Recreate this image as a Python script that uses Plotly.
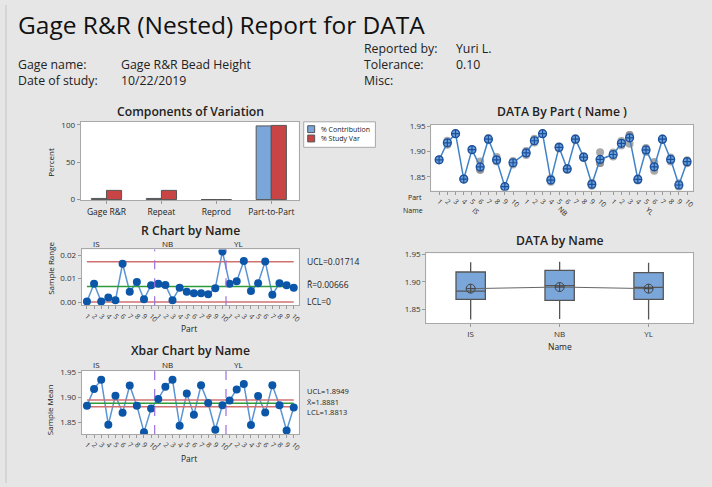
import plotly.graph_objects as go
import numpy as np

W, H = 712, 487
FONT = "Open Sans"

# ---------------- data ----------------
components = ["Gage R&R", "Repeat", "Reprod", "Part-to-Part"]
pct_contribution = [1.5, 1.5, 0.0, 98.5]
pct_study_var = [12.3, 12.3, 0.0, 99.2]

names = ["IS", "NB", "YL"]
parts = ["1", "2", "3", "4", "5", "6", "7", "8", "9", "10"]

# three trials per part, ordered IS parts 1-10, NB parts 1-10, YL parts 1-10
trial1 = [1.8834, 1.9131, 1.9349, 1.8446, 1.9031, 1.8640, 1.9218, 1.8806, 1.8300, 1.8741,
          1.8931, 1.9174, 1.9346, 1.8405, 1.9058, 1.8637, 1.9222, 1.8871, 1.8323, 1.8770,
          1.8900, 1.9114, 1.9150, 1.8425, 1.8989, 1.8620, 1.9225, 1.8802, 1.8303, 1.8767]
trial2 = [1.8835, 1.9170, 1.9350, 1.8455, 1.9035, 1.8640, 1.9240, 1.8808, 1.8306, 1.8777,
          1.8970, 1.9210, 1.9350, 1.8435, 1.9080, 1.8655, 1.9240, 1.8887, 1.8352, 1.8771,
          1.8939, 1.9158, 1.9325, 1.8448, 1.9029, 1.8676, 1.9240, 1.8842, 1.8339, 1.8797]
trial3 = [1.8836, 1.9209, 1.9351, 1.8465, 1.9039, 1.8803, 1.9262, 1.8891, 1.8312, 1.8813,
          1.9009, 1.9247, 1.9354, 1.8466, 1.9102, 1.8674, 1.9259, 1.8904, 1.8382, 1.8985,
          1.8978, 1.9203, 1.9325, 1.8472, 1.9069, 1.8793, 1.9256, 1.8882, 1.8375, 1.8828]

r_ucl, r_bar, r_lcl = 0.01714, 0.00666, 0.0
x_ucl, x_bar, x_lcl = 1.8949, 1.8881, 1.8813

box_q1 = [1.868, 1.866, 1.868]
box_median = [1.883, 1.893, 1.890]
box_q3 = [1.918, 1.921, 1.917]
box_low = [1.831, 1.832, 1.831]
box_high = [1.936, 1.937, 1.935]
box_mean = [1.8875, 1.8905, 1.8875]

# ---------------- derived ----------------
meas = np.array([trial1, trial2, trial3])
xbar_vals = meas.mean(axis=0)
r_vals = meas.max(axis=0) - meas.min(axis=0)
idx = list(range(30))
part_text = parts * 3
bypart_x = [g * 10.6 + p for g in range(3) for p in range(10)]

BLUE_BAR = "#7aa6da"
RED_BAR = "#c94444"
PT_BLUE = "#0b56a8"
LN_BLUE = "#5b94d4"
LIM_RED = "#d07070"
CEN_GRN = "#2f9a3a"
PURPLE = "#9b6ee0"


def dx(a, b):
    return [a / W, b / W]


def dy(top, bottom):
    return [1 - bottom / H, 1 - top / H]


def axstyle(**kw):
    d = dict(showline=True, mirror=True, linecolor="#a8a8a8", linewidth=1,
             showgrid=False, zeroline=False, ticks="outside", ticklen=3,
             tickcolor="#999", tickfont=dict(size=8, color="#333", family=FONT))
    d.update(kw)
    return d


fig = go.Figure()

# 1. Components of variation
fig.add_trace(go.Bar(x=components, y=pct_contribution, name="% Contribution",
                     marker=dict(color=BLUE_BAR, line=dict(color="#555", width=1)),
                     xaxis="x", yaxis="y", showlegend=False))
fig.add_trace(go.Bar(x=components, y=pct_study_var, name="% Study Var",
                     marker=dict(color=RED_BAR, line=dict(color="#555", width=1)),
                     xaxis="x", yaxis="y", showlegend=False))

# 2. DATA By Part (Name)
for t in (trial1, trial2, trial3):
    fig.add_trace(go.Scatter(x=bypart_x, y=t, mode="markers", xaxis="x2", yaxis="y2",
                             marker=dict(color="rgba(140,140,140,0.75)", size=8),
                             showlegend=False, hoverinfo="skip"))
fig.add_trace(go.Scatter(x=bypart_x, y=xbar_vals, mode="lines+markers",
                         xaxis="x2", yaxis="y2",
                         line=dict(color="#3f82c8", width=1.5),
                         marker=dict(symbol="circle-cross", size=8, color="#6a9fd8",
                                     line=dict(color="#1a4f9c", width=1.2)),
                         showlegend=False))

# 3. R chart
fig.add_trace(go.Scatter(x=idx, y=r_vals, mode="lines", xaxis="x3", yaxis="y3",
                         line=dict(color=LN_BLUE, width=1.5), showlegend=False))
for val, col in ((r_ucl, LIM_RED), (r_lcl, LIM_RED), (r_bar, CEN_GRN)):
    fig.add_trace(go.Scatter(x=[idx[0], idx[-1]], y=[val, val], mode="lines",
                             xaxis="x3", yaxis="y3", line=dict(color=col, width=1.5),
                             showlegend=False))
fig.add_trace(go.Scatter(x=idx, y=r_vals, mode="markers", xaxis="x3", yaxis="y3",
                         marker=dict(color=PT_BLUE, size=8), showlegend=False))

# 4. Xbar chart
fig.add_trace(go.Scatter(x=idx, y=xbar_vals, mode="lines", xaxis="x4", yaxis="y4",
                         line=dict(color=LN_BLUE, width=1.5), showlegend=False))
for val, col in ((x_ucl, LIM_RED), (x_lcl, LIM_RED), (x_bar, CEN_GRN)):
    fig.add_trace(go.Scatter(x=[idx[0], idx[-1]], y=[val, val], mode="lines",
                             xaxis="x4", yaxis="y4", line=dict(color=col, width=1.5),
                             showlegend=False))
fig.add_trace(go.Scatter(x=idx, y=xbar_vals, mode="markers", xaxis="x4", yaxis="y4",
                         marker=dict(color=PT_BLUE, size=8), showlegend=False))

# 5. DATA by Name
fig.add_trace(go.Box(x=names, q1=box_q1, median=box_median, q3=box_q3,
                     lowerfence=box_low, upperfence=box_high, xaxis="x5", yaxis="y5",
                     fillcolor=BLUE_BAR, line=dict(color="#555", width=1.3),
                     whiskerwidth=0, width=0.33, showlegend=False, hoverinfo="skip"))
fig.add_trace(go.Scatter(x=names, y=box_mean, mode="lines+markers", xaxis="x5", yaxis="y5",
                         line=dict(color="#666", width=1),
                         marker=dict(symbol="circle-cross-open", size=9,
                                     color="#444", line=dict(width=1)),
                         showlegend=False))

# ---------------- layout ----------------
fig.update_layout(
    width=W, height=H, margin=dict(l=0, r=0, t=0, b=0),
    paper_bgcolor="#e6e6e6", plot_bgcolor="white",
    font=dict(family=FONT, color="#222"),
    barmode="group", bargap=0.45, bargroupgap=0,
    xaxis=axstyle(domain=dx(81, 300), anchor="y", range=[-0.47, 3.5],
                  tickfont=dict(size=8.5, color="#222", family=FONT)),
    yaxis=axstyle(domain=dy(119, 199), anchor="x", range=[-1, 104],
                  tickvals=[0, 50, 100]),
    xaxis2=axstyle(domain=dx(433, 696), anchor="y2", range=[-0.97, 30.93],
                   tickvals=bypart_x, ticktext=part_text, tickangle=45,
                   tickfont=dict(size=7, color="#333", family=FONT)),
    yaxis2=axstyle(domain=dy(122, 189), anchor="x2", range=[1.823, 1.9525],
                   tickvals=[1.85, 1.90, 1.95], ticktext=["1.85", "1.90", "1.95"]),
    xaxis3=axstyle(domain=dx(82, 300), anchor="y3", range=[-0.74, 29.7],
                   tickvals=idx, ticktext=part_text, tickangle=45,
                   tickfont=dict(size=7, color="#333", family=FONT)),
    yaxis3=axstyle(domain=dy(249, 306), anchor="x3", range=[-0.0014, 0.0224],
                   tickvals=[0, 0.01, 0.02], ticktext=["0.00", "0.01", "0.02"]),
    xaxis4=axstyle(domain=dx(82, 300), anchor="y4", range=[-0.74, 29.7],
                   tickvals=idx, ticktext=part_text, tickangle=45,
                   tickfont=dict(size=7, color="#333", family=FONT)),
    yaxis4=axstyle(domain=dy(373, 437), anchor="x4", range=[1.827, 1.9525],
                   tickvals=[1.85, 1.90, 1.95], ticktext=["1.85", "1.90", "1.95"]),
    xaxis5=axstyle(domain=dx(428, 696), anchor="y5", range=[-0.5, 2.5],
                   type="category"),
    yaxis5=axstyle(domain=dy(253, 324), anchor="x5", range=[1.8245, 1.9523],
                   tickvals=[1.85, 1.90, 1.95], ticktext=["1.85", "1.90", "1.95"]),
)

shapes = []
for xr in ("x3", "x4"):
    for xv in (9.5, 19.5):
        shapes.append(dict(type="line", xref=xr, yref=xr.replace("x", "y") + " domain",
                           x0=xv, x1=xv, y0=0, y1=1,
                           line=dict(color=PURPLE, width=1.2, dash="dash")))
# legend box
shapes.append(dict(type="rect", xref="paper", yref="paper", x0=305 / W, x1=377 / W,
                   y0=1 - 145 / H, y1=1 - 119 / H, fillcolor="white",
                   line=dict(color="#a8a8a8", width=1)))
shapes.append(dict(type="rect", xref="paper", yref="paper", x0=309 / W, x1=316 / W,
                   y0=1 - 130 / H, y1=1 - 123 / H, fillcolor=BLUE_BAR,
                   line=dict(color="#555", width=1)))
shapes.append(dict(type="rect", xref="paper", yref="paper", x0=309 / W, x1=316 / W,
                   y0=1 - 139.5 / H, y1=1 - 132.5 / H, fillcolor=RED_BAR,
                   line=dict(color="#555", width=1)))
shapes.append(dict(type="line", xref="paper", yref="paper", x0=6 / W, x1=6 / W, y0=0, y1=1,
                   line=dict(color="#c4c4c4", width=1)))
fig.update_layout(shapes=shapes)


def ann(text, x, y, size=8, xanchor="center", yanchor="middle", color="#222",
        angle=0, weight="normal", align="center"):
    return dict(text=text, x=x / W, y=1 - y / H, xref="paper", yref="paper",
                xanchor=xanchor, yanchor=yanchor, showarrow=False, textangle=angle,
                align=align,
                font=dict(size=size, color=color, family=FONT, weight=weight))


anns = [
    ann("Gage R&R (Nested) Report for DATA", 16, 20, size=24.5, xanchor="left", color="#111"),
    # header block (multi-line so that rows sit close like the original)
    ann("Gage name:<br>Date of study:", 16, 68.5, size=12.3, xanchor="left", align="left"),
    ann("Gage R&R Bead Height<br>10/22/2019", 120, 68.5, size=12.3, xanchor="left",
        align="left"),
    ann("Reported by:<br>Tolerance:<br>Misc:", 364, 60.5, size=12.3, xanchor="left",
        align="left"),
    ann("Yuri L.<br>0.10", 456, 52.5, size=12.3, xanchor="left", align="left"),
    # panel titles
    ann("Components of Variation", 191, 108, size=12.2, weight=600),
    ann("DATA By Part ( Name )", 564, 108, size=12.2, weight=600),
    ann("R Chart by Name", 191, 229.5, size=12.2, weight=600),
    ann("DATA by Name", 562, 240, size=12.2, weight=600),
    ann("Xbar Chart by Name", 191, 352.5, size=12.2, weight=600),
    # legend text
    ann("% Contribution", 320, 126.5, size=7, xanchor="left"),
    ann("% Study Var", 320, 136, size=7, xanchor="left"),
    # axis titles
    ann("Percent", 50, 160, size=8, angle=-90),
    ann("Sample Range", 50, 268, size=8, angle=-90),
    ann("Sample Mean", 50, 412, size=8, angle=-90),
    ann("Part", 190, 330, size=8.5),
    ann("Part", 190, 462, size=8.5),
    ann("Name", 562, 348, size=8.5),
    ann("Part", 417, 196, size=7),
    ann("Name", 415, 209, size=7),
    # R chart limits
    ann("UCL=0.01714", 306, 261.5, size=8.5, xanchor="left"),
    ann("R\u0304=0.00666", 306, 285, size=8.5, xanchor="left"),
    ann("LCL=0", 306, 302, size=8.5, xanchor="left"),
    # Xbar chart limits (stacked tightly beside the lines)
    ann("UCL=1.8949", 306, 393.5, size=7.5, xanchor="left"),
    ann("X\u0304=1.8881", 306, 404, size=7.5, xanchor="left"),
    ann("LCL=1.8813", 306, 414.5, size=7.5, xanchor="left"),
]
for g, nm in enumerate(names):
    anns.append(dict(text=nm, x=g * 10 + 1.3, y=1 - 243 / H, xref="x3", yref="paper",
                     xanchor="center", yanchor="middle", showarrow=False,
                     font=dict(size=8, family=FONT, color="#222")))
    anns.append(dict(text=nm, x=g * 10 + 1.3, y=1 - 366.5 / H, xref="x4", yref="paper",
                     xanchor="center", yanchor="middle", showarrow=False,
                     font=dict(size=8, family=FONT, color="#222")))
    anns.append(dict(text=nm, x=g * 10.6 + 4.5, y=1 - 210 / H, xref="x2", yref="paper",
                     xanchor="center", yanchor="middle", showarrow=False, textangle=45,
                     font=dict(size=7, family=FONT, color="#222")))
fig.update_layout(annotations=anns)

fig.write_html("out.html", config={"displayModeBar": False},
               post_script="document.body.style.margin='0px';")
